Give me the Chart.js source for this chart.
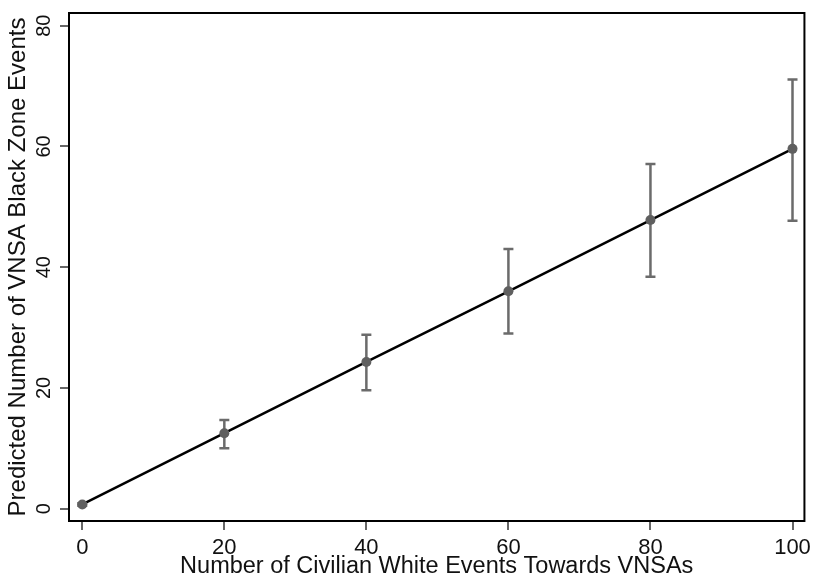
<!DOCTYPE html>
<html>
<head>
<meta charset="utf-8">
<script src="https://cdn.jsdelivr.net/npm/chart.js@4.4.0/dist/chart.umd.min.js"></script>
<style>
  body { margin: 0; background: #fff; }
  #wrap { width: 816px; height: 578px; }
</style>
</head>
<body>
<div id="wrap"><canvas id="myChart" width="816" height="578"></canvas></div>
<script>
// civilian white events (x) and predicted black zone events with 95% CI
const civilianEvents = [0, 20, 40, 60, 80, 100];
const predicted = [0.7, 12.5, 24.3, 36.0, 47.8, 59.6];
const ciLower = [0.5, 10.0, 19.6, 29.0, 38.4, 47.7];
const ciUpper = [0.9, 14.7, 28.8, 43.0, 57.1, 71.1];

const xTicks = [0, 20, 40, 60, 80, 100];
const yTicks = [0, 20, 40, 60, 80];

const FONT = "'Liberation Sans', Arial, sans-serif";

// CI whiskers, drawn under the line and markers
const errorBars = {
  id: 'errorBars',
  beforeDatasetsDraw(chart) {
    const { ctx, scales: { x, y } } = chart;
    ctx.save();
    ctx.strokeStyle = '#6b6b6b';
    ctx.lineWidth = 2.5;
    civilianEvents.forEach((v, i) => {
      const px = x.getPixelForValue(v);
      const lo = y.getPixelForValue(ciLower[i]);
      const hi = y.getPixelForValue(ciUpper[i]);
      ctx.beginPath();
      ctx.moveTo(px, lo); ctx.lineTo(px, hi);
      ctx.moveTo(px - 5, lo); ctx.lineTo(px + 5, lo);
      ctx.moveTo(px - 5, hi); ctx.lineTo(px + 5, hi);
      ctx.stroke();
    });
    ctx.restore();
  }
};

// plot box and the vertical y tick labels
const frame = {
  id: 'frame',
  afterDraw(chart) {
    const { ctx, chartArea: a, scales: { y } } = chart;
    ctx.save();
    ctx.strokeStyle = '#000';
    ctx.lineWidth = 2;
    ctx.strokeRect(a.left, a.top, a.right - a.left, a.bottom - a.top);

    ctx.fillStyle = '#111';
    ctx.font = '20px ' + FONT;
    ctx.textAlign = 'center';
    ctx.textBaseline = 'alphabetic';
    yTicks.forEach(v => {
      ctx.save();
      ctx.translate(50, y.getPixelForValue(v));
      ctx.rotate(-Math.PI / 2);
      ctx.fillText(String(v), 0, 0);
      ctx.restore();
    });
    ctx.restore();
  }
};

const data = {
  labels: civilianEvents,
  datasets: [{
    label: 'Predicted',
    data: civilianEvents.map((v, i) => ({ x: v, y: predicted[i] })),
    borderColor: '#000',
    borderWidth: 2.5,
    pointBackgroundColor: '#5f5f5f',
    pointBorderColor: '#5f5f5f',
    pointRadius: 5,
    pointBorderWidth: 0,
    tension: 0,
    clip: false
  }]
};

const config = {
  type: 'line',
  data,
  options: {
    responsive: false,
    animation: false,
    layout: { padding: { top: 13, right: 9, left: 0, bottom: 0 } },
    plugins: { legend: { display: false }, tooltip: { enabled: false } },
    scales: {
      x: {
        type: 'linear',
        min: -1.87,
        max: 101.68,
        afterBuildTicks: s => { s.ticks = xTicks.map(v => ({ value: v })); },
        afterFit: s => { s.height = 57; },
        border: { display: false },
        grid: { drawOnChartArea: false, drawTicks: true, tickLength: 9, color: '#666', lineWidth: 2 },
        ticks: { color: '#111', padding: 5, maxRotation: 0, font: { family: FONT, size: 22, lineHeight: 1.2 } },
        title: {
          display: true,
          text: 'Number of Civilian White Events Towards VNSAs',
          color: '#111',
          padding: 0,
          font: { family: FONT, size: 23.5, lineHeight: 1 }
        }
      },
      y: {
        type: 'linear',
        min: -2.04,
        max: 82.1,
        afterBuildTicks: s => { s.ticks = yTicks.map(v => ({ value: v })); },
        afterFit: s => { s.width = 69; },
        border: { display: false },
        grid: { drawOnChartArea: false, drawTicks: true, tickLength: 9, color: '#666', lineWidth: 2 },
        ticks: { display: false },
        title: {
          display: true,
          text: 'Predicted Number of VNSA Black Zone Events',
          color: '#111',
          padding: { top: 6, bottom: 0 },
          font: { family: FONT, size: 24, lineHeight: 1 }
        }
      }
    }
  },
  plugins: [errorBars, frame]
};

var myChart = new Chart(document.getElementById('myChart'), config);
</script>
</body>
</html>
